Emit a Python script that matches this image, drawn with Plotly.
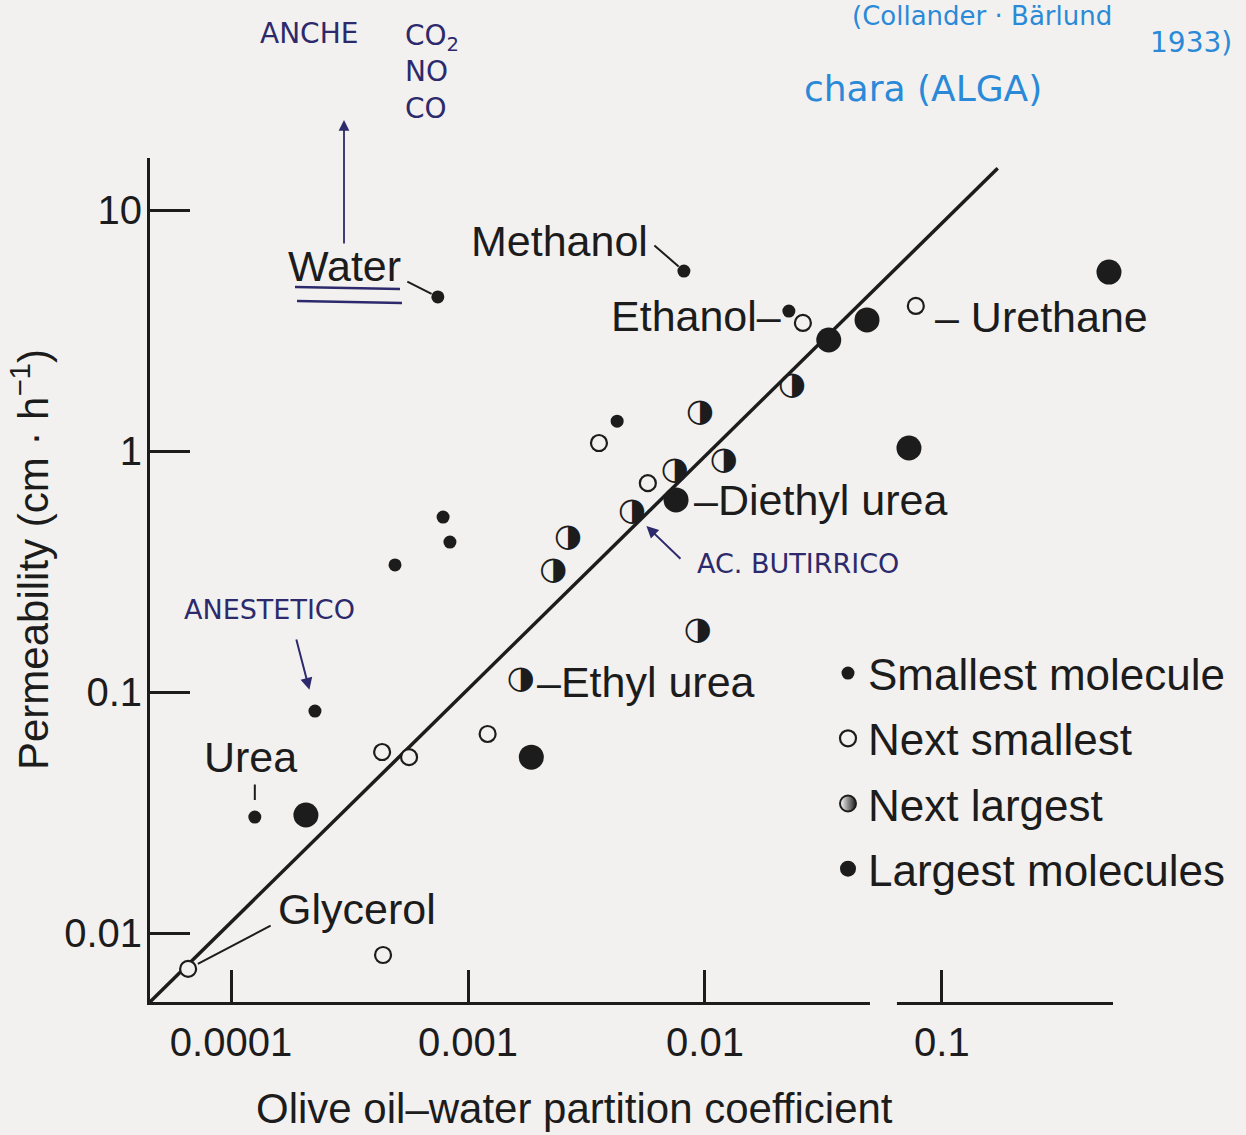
import numpy as np
import plotly.graph_objects as go

# ---------------- data ----------------
# Smallest molecule (small filled dots)
small_x = [0.000746, 0.00815, 0.0226, 0.00426, 0.000785, 0.000839, 0.000492, 0.000226, 0.000126]
small_y = [4.36, 5.58, 3.81, 1.33, 0.532, 0.419, 0.337, 0.0834, 0.0303]
# Next smallest (open circles)
nsmall_x = [0.0259, 0.0776, 0.00357, 0.00574, 0.000434, 0.000564, 0.00121, 0.0000659, 0.000438]
nsmall_y = [3.40, 4.00, 1.08, 0.736, 0.0564, 0.0537, 0.0670, 0.00710, 0.00811]
# Next largest (half filled circles)
nlarge_x = [0.00953, 0.0233, 0.0120, 0.00746, 0.00492, 0.00264, 0.00229, 0.00933, 0.00167]
nlarge_y = [1.44, 1.86, 0.910, 0.826, 0.558, 0.436, 0.318, 0.179, 0.112]
# Largest molecules (big filled dots)
large_x = [0.507, 0.0483, 0.0333, 0.0726, 0.00755, 0.00185, 0.000207]
large_y = [5.53, 3.50, 2.89, 1.03, 0.627, 0.0537, 0.0309]
# fitted line end points
fit_x = [0.0000455, 0.172]
fit_y = [0.00518, 14.9]

x_ticks = [0.0001, 0.001, 0.01, 0.1]
x_ticktext = ["0.0001", "0.001", "0.01", "0.1"]
y_ticks = [0.01, 0.1, 1, 10]
y_ticktext = ["0.01", "0.1", "1", "10"]

series_names = ["Smallest molecule", "Next smallest", "Next largest", "Largest molecules"]

# ---------------- style ----------------
BG = "#f3f1ef"
INK = "#1c1c1c"
PEN = "#2c2a6c"
BLUE = "#2a8ad8"
FONT = "Liberation Sans, Arial, sans-serif"
HAND = "DejaVu Sans, sans-serif"

W, H = 1246, 1135
L, R, T, B = 150, 133, 158, 133
PW, PH = W - L - R, H - T - B


def px2paper(px, py):
    return (px - L) / PW, (H - B - py) / PH


fig = go.Figure()

fig.add_trace(go.Scatter(x=fit_x, y=fit_y, mode="lines",
                         line=dict(color=INK, width=3.5), showlegend=False, hoverinfo="skip"))

fig.add_trace(go.Scatter(x=small_x, y=small_y, mode="markers", name=series_names[0],
                         legendgroup="a", cliponaxis=False,
                         marker=dict(symbol="circle", size=13, color=INK, line=dict(width=0))))
fig.add_trace(go.Scatter(x=nsmall_x, y=nsmall_y, mode="markers", name=series_names[1],
                         legendgroup="b", cliponaxis=False,
                         marker=dict(symbol="circle", size=16, color=BG, line=dict(width=2.2, color=INK))))
# half-filled circles drawn as the glyph U+25D1 at each data point
fig.add_trace(go.Scatter(x=nlarge_x, y=nlarge_y, mode="text", name=series_names[2],
                         legendgroup="c", showlegend=False, cliponaxis=False,
                         text=["◑"] * len(nlarge_x), textposition="middle center",
                         textfont=dict(family="DejaVu Sans", size=32, color=INK)))
# legend entry for the half-filled series
fig.add_trace(go.Scatter(x=[None], y=[None], mode="markers", name=series_names[2],
                         legendgroup="c", hoverinfo="skip",
                         marker=dict(symbol="circle", size=17, color="#ffffff",
                                     gradient=dict(type="horizontal", color=INK),
                                     line=dict(width=2, color=INK))))
fig.add_trace(go.Scatter(x=large_x, y=large_y, mode="markers", name=series_names[3],
                         legendgroup="d", cliponaxis=False,
                         marker=dict(symbol="circle", size=25, color=INK, line=dict(width=0))))

lg = np.log10


def pt(xs, ys, i):
    return lg(xs[i]), lg(ys[i])


ann = []


def label(xy, text, xanchor, xshift, yshift, size=43):
    ann.append(dict(x=xy[0], y=xy[1], xref="x", yref="y", text=text, showarrow=False,
                    xanchor=xanchor, yanchor="middle", xshift=xshift, yshift=yshift,
                    font=dict(family=FONT, size=size, color=INK)))


def leader(xy, ax, ay, standoff, color=INK, width=2, head=0, hsize=1):
    ann.append(dict(x=xy[0], y=xy[1], xref="x", yref="y", text="", showarrow=True,
                    arrowhead=head, arrowsize=hsize, arrowwidth=width, arrowcolor=color,
                    ax=ax, ay=ay, standoff=standoff))


water = pt(small_x, small_y, 0)
label(water, "Water", "right", -35, 31)
leader(water, -32, -16, 7)

meth = pt(small_x, small_y, 1)
label(meth, "Methanol", "right", -34, 30)
leader(meth, -31, -27, 7)

eth = pt(small_x, small_y, 2)
label(eth, "Ethanol–", "right", -6, -5)

ureth = pt(nsmall_x, nsmall_y, 1)
label(ureth, "– Urethane", "left", 17, -11)

diet = pt(large_x, large_y, 4)
label(diet, "–Diethyl urea", "left", 16, 0)

ethu = pt(nlarge_x, nlarge_y, 8)
label(ethu, "–Ethyl urea", "left", 14, -2)

urea = pt(small_x, small_y, 8)
label(urea, "Urea", "center", -4, 60)
leader(urea, 0, -34, 17)

glyc = pt(nsmall_x, nsmall_y, 7)
label(glyc, "Glycerol", "left", 88, 60)
leader(glyc, 84, -44, 11)

# handwritten notes
anest = pt(small_x, small_y, 7)
ann.append(dict(x=anest[0], y=anest[1], xref="x", yref="y", text="ANESTETICO", showarrow=False,
                xanchor="center", yanchor="middle", xshift=-45, yshift=102,
                font=dict(family=HAND, size=27, color=PEN)))
leader(anest, -19, -73, 22, color=PEN, width=2, head=2, hsize=1.2)

butir = pt(nlarge_x, nlarge_y, 4)
ann.append(dict(x=butir[0], y=butir[1], xref="x", yref="y", text="AC. BUTIRRICO", showarrow=False,
                xanchor="left", yanchor="middle", xshift=63, yshift=-51,
                font=dict(family=HAND, size=27, color=PEN)))
leader(butir, 50, 48, 20, color=PEN, width=2, head=2, hsize=1.2)

hx, hy = px2paper(309, 34)
ann.append(dict(x=hx, y=hy, xref="paper", yref="paper", text="ANCHE", showarrow=False,
                xanchor="center", yanchor="middle", font=dict(family=HAND, size=28, color=PEN)))
hx, hy = px2paper(403, 72)
ann.append(dict(x=hx, y=hy, xref="paper", yref="paper", text="CO<sub>2</sub><br>NO<br>CO",
                showarrow=False, align="left", xanchor="left", yanchor="middle",
                font=dict(family=HAND, size=28, color=PEN)))
hx, hy = px2paper(344, 120)
ann.append(dict(x=hx, y=hy, xref="paper", yref="paper", text="", showarrow=True,
                arrowhead=2, arrowsize=1.2, arrowwidth=1.8, arrowcolor=PEN, ax=0, ay=125))

hx, hy = px2paper(923, 88)
ann.append(dict(x=hx, y=hy, xref="paper", yref="paper", text="chara (ALGA)", showarrow=False,
                xanchor="center", yanchor="middle", font=dict(family=HAND, size=36, color=BLUE)))
hx, hy = px2paper(1148, 42)
ann.append(dict(x=hx, y=hy, xref="paper", yref="paper", text="1933)", showarrow=False,
                xanchor="left", yanchor="middle", font=dict(family=HAND, size=28, color=BLUE)))
hx, hy = px2paper(850, 16)
ann.append(dict(x=hx, y=hy, xref="paper", yref="paper", text="(Collander · Bärlund", showarrow=False,
                xanchor="left", yanchor="middle", font=dict(family=HAND, size=26, color=BLUE)))

# axis titles
tx, ty = px2paper(574, 1108)
ann.append(dict(x=tx, y=ty, xref="paper", yref="paper", text="Olive oil–water partition coefficient",
                showarrow=False, xanchor="center", yanchor="middle",
                font=dict(family=FONT, size=42, color=INK)))
tx, ty = px2paper(30, 560)
ann.append(dict(x=tx, y=ty, xref="paper", yref="paper", text="Permeability (cm · h<sup>−1</sup>)",
                showarrow=False, xanchor="center", yanchor="middle", textangle=-90,
                font=dict(family=FONT, size=42, color=INK)))

shapes = []
for (x0, y0, x1, y1) in [(295, 287, 400, 289), (297, 301, 402, 303)]:
    a0, b0 = px2paper(x0, y0)
    a1, b1 = px2paper(x1, y1)
    shapes.append(dict(type="line", xref="paper", yref="paper", x0=a0, y0=b0, x1=a1, y1=b1,
                       line=dict(color=PEN, width=2.5)))
# axis break between 0.01 and 0.1
shapes.append(dict(type="rect", xref="x", yref="paper", x0=0.0497, x1=0.0646, y0=-0.012, y1=0.012,
                   fillcolor=BG, line=dict(width=0), layer="above"))

lx, ly = px2paper(828, 638)
fig.update_layout(
    width=W, height=H,
    margin=dict(l=L, r=R, t=T, b=B, pad=0),
    paper_bgcolor=BG, plot_bgcolor=BG,
    font=dict(family=FONT, color=INK),
    showlegend=True,
    legend=dict(x=lx, y=ly, xanchor="left", yanchor="top", bgcolor="rgba(0,0,0,0)",
                font=dict(family=FONT, size=44, color=INK), traceorder="grouped",
                tracegroupgap=5, itemsizing="trace"),
    annotations=ann, shapes=shapes,
    xaxis=dict(type="log", range=[-4.342, -0.278], showgrid=False, zeroline=False,
               showline=True, linewidth=3, linecolor=INK,
               ticks="inside", ticklen=32, tickwidth=2.5, tickcolor=INK,
               tickvals=x_ticks, ticktext=x_ticktext, ticklabelstandoff=3,
               tickfont=dict(family=FONT, size=40, color=INK)),
    yaxis=dict(type="log", range=[-2.286, 1.216], showgrid=False, zeroline=False,
               showline=True, linewidth=3, linecolor=INK,
               ticks="inside", ticklen=40, tickwidth=2.5, tickcolor=INK,
               tickvals=y_ticks, ticktext=y_ticktext, ticklabelstandoff=-3,
               tickfont=dict(family=FONT, size=40, color=INK)),
)

fig.write_html("out.html", config={"displayModeBar": False},
               post_script="document.body.style.margin='0';document.body.style.overflow='hidden';")
